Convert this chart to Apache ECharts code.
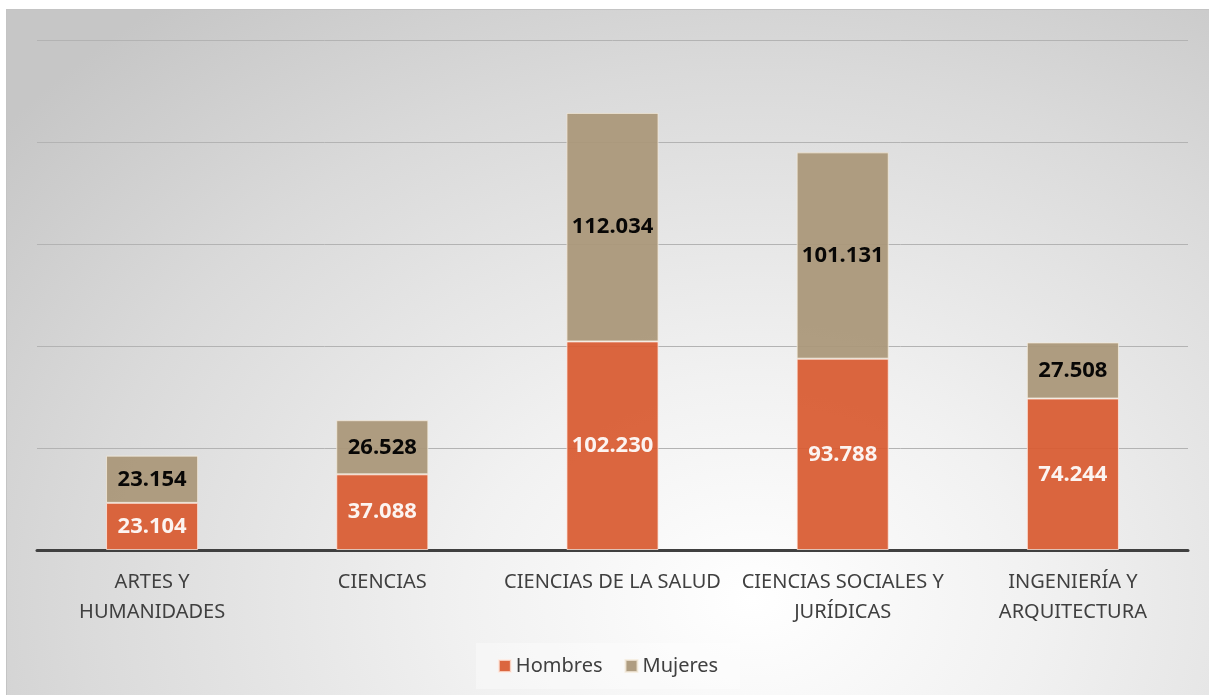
<!DOCTYPE html>
<html>
<head>
<meta charset="utf-8">
<script src="https://cdn.jsdelivr.net/npm/echarts@6/dist/echarts.min.js"></script>
<style>
  html, body { margin: 0; padding: 0; background: #fff; }
  .panel {
    position: absolute;
    left: 6px; top: 9px;
    width: 1202px; height: 685px;
    background: radial-gradient(ellipse 80% 110% at 62% 86%, #ffffff 0%, #f1f1f1 30%, #dadada 70%, #c6c6c6 100%);
    border-top: 1px solid #c4c4c4;
    border-left: 1px solid #c4c4c4;
  }
  #chart { width: 1202px; height: 685px; }
</style>
</head>
<body>
<div class="panel"><div id="chart"></div></div>
<script>
  // datos
  const categorias = ['ARTES Y\nHUMANIDADES', 'CIENCIAS', 'CIENCIAS DE LA SALUD', 'CIENCIAS SOCIALES Y\nJURÍDICAS', 'INGENIERÍA Y\nARQUITECTURA']
  const hombres = [23104, 37088, 102230, 93788, 74244]
  const mujeres = [23154, 26528, 112034, 101131, 27508]

  // 23104 -> "23.104"
  const fmt = v => v.toLocaleString('de-DE')

  const chart = echarts.init(document.getElementById('chart'))
  const font = '"Noto Sans", "Open Sans", sans-serif'

  const option = {
    backgroundColor: 'transparent',
    textStyle: { fontFamily: font },
    grid: { left: 30, right: 21, top: 30, bottom: 145 },
    legend: {
      bottom: 6,
      left: 'center',
      icon: 'rect',
      itemWidth: 12,
      itemHeight: 12,
      itemGap: 22,
      padding: [13, 22],
      backgroundColor: 'rgba(255,255,255,0.35)',
      textStyle: { fontSize: 20, color: '#404040', fontFamily: font },
      data: ['Hombres', 'Mujeres']
    },
    xAxis: {
      type: 'category',
      data: categorias,
      axisLine: { lineStyle: { color: '#404040', width: 3 } },
      axisTick: { show: false },
      axisLabel: { fontSize: 20, color: '#404040', lineHeight: 30, margin: 17, interval: 0 }
    },
    yAxis: {
      type: 'value',
      min: 0,
      max: 250000,
      interval: 50000,
      axisLabel: { show: false },
      axisLine: { show: false },
      axisTick: { show: false },
      splitLine: { lineStyle: { color: '#b3b3b3', width: 1 } }
    },
    series: [
      {
        name: 'Hombres',
        type: 'bar',
        stack: 'total',
        barWidth: '40%',
        data: hombres,
        itemStyle: { color: '#d85a30', opacity: 0.93, borderColor: 'rgba(255,235,225,0.8)', borderWidth: 1 },
        label: {
          show: true, position: 'inside', color: '#fff',
          fontSize: 22, fontWeight: 'bold', formatter: p => fmt(p.value)
        }
      },
      {
        name: 'Mujeres',
        type: 'bar',
        stack: 'total',
        data: mujeres,
        itemStyle: { color: '#ab987a', opacity: 0.95, borderColor: 'rgba(245,235,220,0.8)', borderWidth: 1 },
        label: {
          show: true, position: 'inside', color: '#000',
          fontSize: 22, fontWeight: 'bold', formatter: p => fmt(p.value)
        }
      }
    ]
  }

  chart.setOption(option)
</script>
</body>
</html>
